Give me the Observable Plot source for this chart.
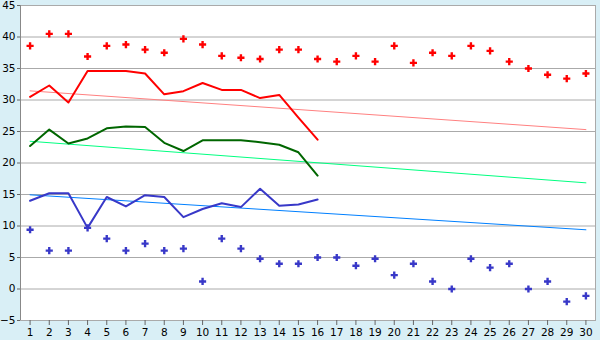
<!DOCTYPE html>
<html><head><meta charset="utf-8">
<script src="https://cdn.jsdelivr.net/npm/d3@7"></script>
<script src="https://cdn.jsdelivr.net/npm/@observablehq/plot@0.6"></script>
<style>
html,body{margin:0;padding:0;background:#d9eff6;}
</style>
</head><body>
<div id="chart"></div>
<script>
const days = [1,2,3,4,5,6,7,8,9,10,11,12,13,14,15,16,17,18,19,20,21,22,23,24,25,26,27,28,29,30];
const redPoints = [38.6,40.5,40.5,36.9,38.6,38.8,38.0,37.5,39.7,38.8,37.0,36.7,36.5,38.0,38.0,36.5,36.1,37.0,36.1,38.6,35.9,37.5,37.0,38.6,37.8,36.1,35.0,34.0,33.4,34.2];
const bluePoints = [9.4,6.1,6.1,9.7,8.0,6.1,7.2,6.1,6.4,1.2,8.0,6.4,4.8,4.0,4.0,5.0,5.0,3.7,4.8,2.2,4.0,1.2,0.0,4.8,3.4,4.0,0.0,1.2,-2.0,-1.1];
const lineDays = [1,2,3,4,5,6,7,8,9,10,11,12,13,14,15,16];
const redLine = [30.5,32.3,29.6,34.6,34.6,34.6,34.2,30.9,31.4,32.7,31.6,31.6,30.3,30.8,27.2,23.7];
const greenLine = [22.7,25.3,23.1,23.9,25.5,25.8,25.7,23.2,21.9,23.6,23.6,23.6,23.3,22.9,21.7,18.0];
const blueLine = [14.0,15.2,15.2,9.7,14.6,13.1,14.9,14.6,11.4,12.7,13.6,13.0,15.9,13.2,13.4,14.2];
const trendDays = [1,30];
const redTrend = [31.45,25.3];
const greenTrend = [23.45,16.85];
const blueTrend = [14.95,9.4];
const yTicks = [-5,0,5,10,15,20,25,30,35,40,45];

const pts = (xs, ys) => xs.map((d,i)=>({x:d,y:ys[i]}));

const chart = Plot.plot({
  width: 600, height: 340,
  marginLeft: 20, marginRight: 5, marginTop: 5, marginBottom: 20,
  style: {background: "#d9eff6", fontFamily: "DejaVu Sans", fontSize: "10px", color: "#000"},
  x: {domain: [0.5, 30.5], ticks: days, tickFormat: d=>d, label: null},
  y: {domain: [-5, 45], ticks: yTicks, label: null},
  marks: [
    Plot.frame({fill: "white", stroke: "none"}),
    Plot.ruleY(yTicks, {stroke: "#aaaaaa", strokeWidth: 1}),
    Plot.frame({stroke: "#aaaaaa", strokeWidth: 1}),
    Plot.axisY({ticks: yTicks, tickSize: 3, tickPadding: 2, fontSize: 10.5, stroke: "#666", label: null}),
    Plot.axisX({ticks: days, tickSize: 5, tickPadding: 3, fontSize: 10.5, stroke: "#666", tickFormat: d=>d, label: null}),
    Plot.ruleX([0.5], {stroke: "#888"}),
    Plot.line(pts(trendDays, redTrend), {x:"x", y:"y", stroke: "#ff8080", strokeWidth: 1}),
    Plot.line(pts(trendDays, greenTrend), {x:"x", y:"y", stroke: "#00ff80", strokeWidth: 1}),
    Plot.line(pts(trendDays, blueTrend), {x:"x", y:"y", stroke: "#0080ff", strokeWidth: 1}),
    Plot.line(pts(lineDays, redLine), {x:"x", y:"y", stroke: "#ff0000", strokeWidth: 2}),
    Plot.line(pts(lineDays, greenLine), {x:"x", y:"y", stroke: "#006600", strokeWidth: 2}),
    Plot.line(pts(lineDays, blueLine), {x:"x", y:"y", stroke: "#3838c8", strokeWidth: 2}),
    Plot.dot(pts(days, redPoints), {x:"x", y:"y", symbol: "cross", r: 3, fill: "#ff0000", stroke: "none"}),
    Plot.dot(pts(days, bluePoints), {x:"x", y:"y", symbol: "cross", r: 3, fill: "#3838c8", stroke: "none"})
  ]
});
document.getElementById("chart").appendChild(chart);
</script>
</body></html>
